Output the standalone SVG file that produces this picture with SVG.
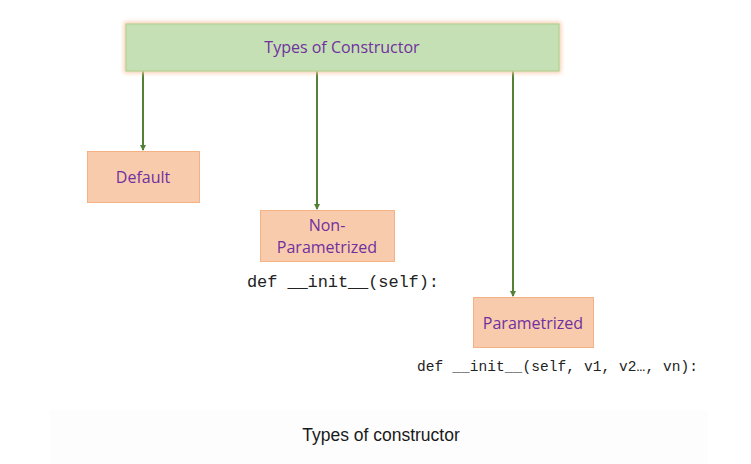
<svg xmlns="http://www.w3.org/2000/svg" width="751" height="464" viewBox="0 0 751 464">
<style>
.box{fill:#f8cbad;stroke:#f4b183;stroke-width:1}
.lbl{font-family:"Open Sans","Noto Sans","Liberation Sans",sans-serif;font-size:16px;fill:#7030a0;text-anchor:middle}
.code{font-family:"Liberation Mono",monospace;fill:#222}
.conn{stroke:#538135;stroke-width:2;fill:none;marker-end:url(#arr)}
</style>
<defs>
<marker id="arr" markerWidth="6" markerHeight="6" refX="5" refY="3" orient="auto" markerUnits="userSpaceOnUse">
<path d="M0,0 L6,3 L0,6 z" fill="#538135"/>
</marker>
<filter id="glow" x="-10%" y="-40%" width="120%" height="180%">
<feGaussianBlur stdDeviation="2"/>
</filter>
</defs>
<rect width="751" height="464" fill="#ffffff"/>
<rect x="50" y="410" width="658" height="54" fill="#fdfdfd"/>
<g id="connectors">
<line class="conn" x1="143" y1="71" x2="143" y2="150"/>
<line class="conn" x1="317" y1="71" x2="317" y2="209"/>
<line class="conn" x1="513" y1="71" x2="513" y2="296"/>
</g>
<g id="root">
<rect x="124" y="22" width="437" height="51" fill="#f8cbad" filter="url(#glow)"/>
<rect x="126" y="24" width="433" height="47" fill="#c5e0b4" stroke="#a9d18e" stroke-width="1"/>
<text class="lbl" x="342" y="53">Types of Constructor</text>
</g>
<g id="default">
<rect class="box" x="87.5" y="151.5" width="112" height="51"/>
<text class="lbl" x="143" y="183">Default</text>
</g>
<g id="nonparam">
<rect class="box" x="260.5" y="210.5" width="134" height="51"/>
<text class="lbl" x="327" y="231">Non-</text>
<text class="lbl" x="327" y="253">Parametrized</text>
<text class="code" x="247" y="287" font-size="17" textLength="192">def __init__(self):</text>
</g>
<g id="param">
<rect class="box" x="473.5" y="297.5" width="120" height="50"/>
<text class="lbl" x="533" y="329">Parametrized</text>
<text class="code" x="417" y="371" font-size="14.5" textLength="281">def __init__(self, v1, v2…, vn):</text>
</g>
<text x="381" y="441" font-family="Liberation Sans,Arial,sans-serif" font-size="17.5" fill="#1a1a1a" text-anchor="middle">Types of constructor</text>
</svg>
